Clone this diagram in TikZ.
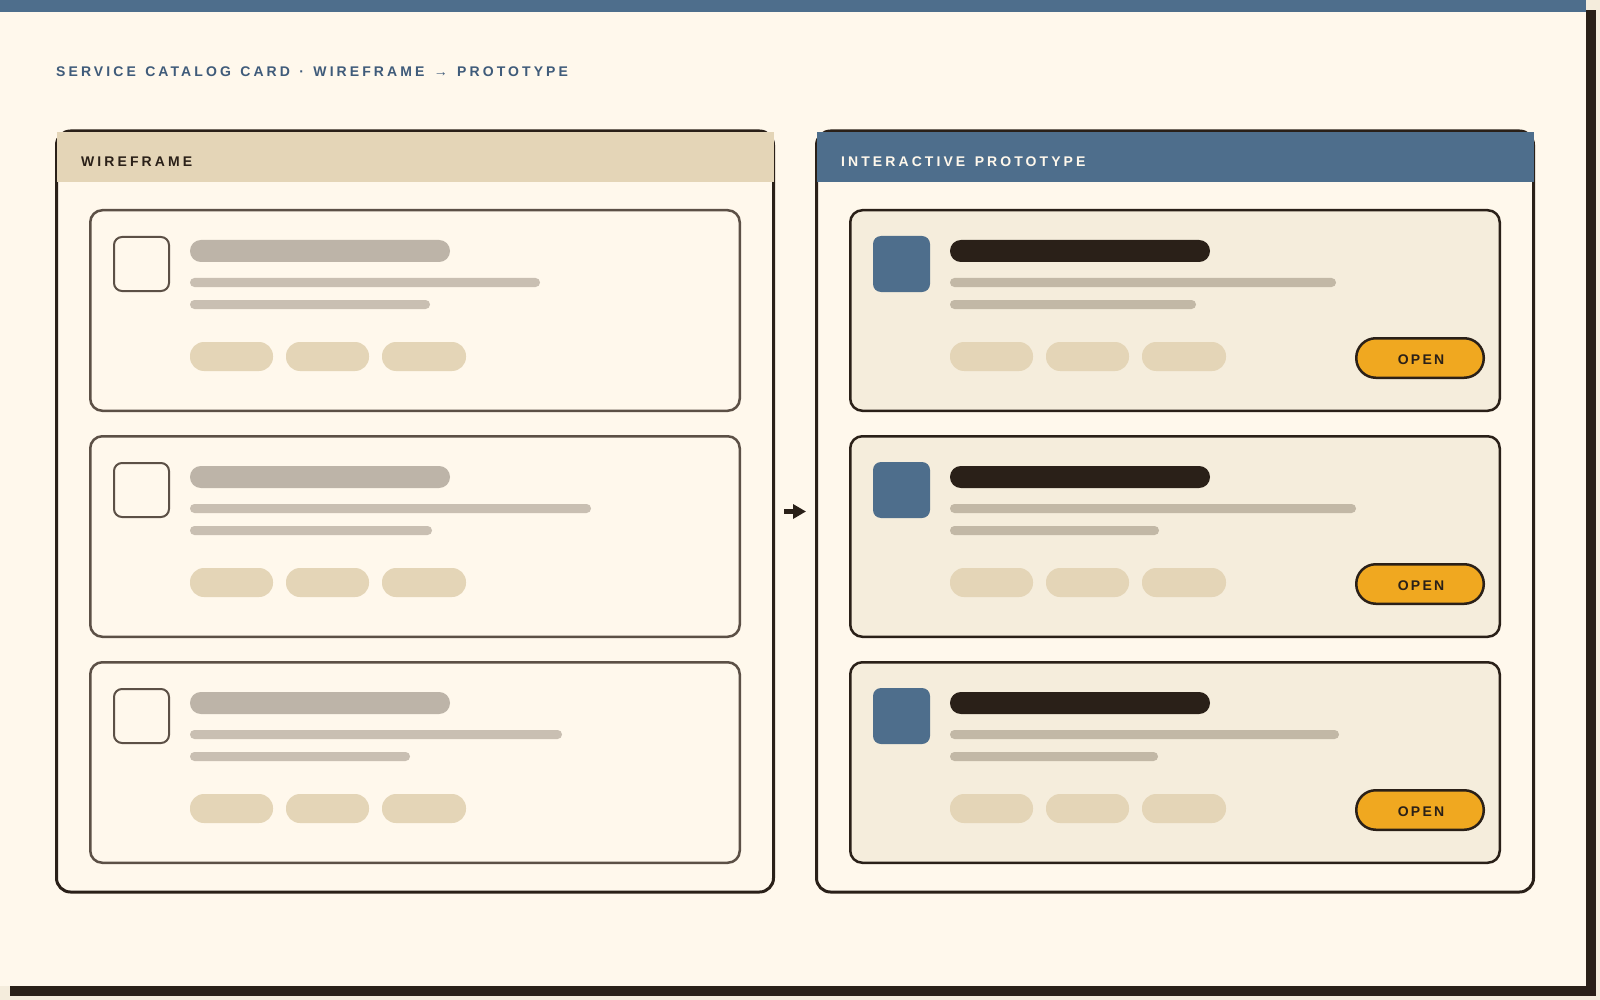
\documentclass[tikz,border=0pt]{standalone}
\usepackage{fontspec}
\setmainfont{Liberation Sans}
\newfontfamily\trackfont[LetterSpace=22,WordSpace=1.35]{Liberation Sans}
\newfontfamily\btnfont[LetterSpace=16]{Liberation Sans}
\usetikzlibrary{arrows.meta}
\definecolor{bgout}{HTML}{F4ECDC}
\definecolor{paper}{HTML}{FFF8EC}
\definecolor{ink}{HTML}{2A2018}
\definecolor{steel}{HTML}{4E6E8C}
\definecolor{sand}{HTML}{E4D5B7}
\definecolor{wborder}{HTML}{5C5046}
\definecolor{wtitle}{HTML}{BDB4A8}
\definecolor{wline}{HTML}{C9BFB2}
\definecolor{pfill}{HTML}{F5EDDC}
\definecolor{pline}{HTML}{C2B8A6}
\definecolor{amber}{HTML}{F0A820}
\definecolor{titleblue}{HTML}{3F5B7A}
\begin{document}
\begin{tikzpicture}[x=1pt,y=-1pt,
  panel/.style={draw=ink, line width=3pt, fill=paper, rounded corners=14pt,
    minimum width=717pt, minimum height=761pt, inner sep=0pt},
  headbar/.style={anchor=north west, minimum width=717pt, minimum height=50pt, inner sep=0pt},
  headtext/.style={anchor=west, inner sep=0pt, font=\trackfont\bfseries\fontsize{14}{16}\selectfont},
  wcard/.style={draw=wborder, line width=2.5pt, fill=paper, rounded corners=12pt,
    minimum width=649.5pt, minimum height=200.5pt, inner sep=0pt},
  pcard/.style={wcard, draw=ink, fill=pfill},
  wicon/.style={draw=wborder, line width=2pt, fill=paper, rounded corners=8pt,
    minimum width=55pt, minimum height=54pt, inner sep=0pt},
  picon/.style={fill=steel, rounded corners=8pt,
    minimum width=57pt, minimum height=56pt, inner sep=0pt},
  chip/.style={fill=sand, rounded corners=14pt},
  openbtn/.style={draw=ink, line width=2.5pt, fill=amber, rounded corners=19.5pt,
    minimum width=127.5pt, minimum height=39.5pt, inner sep=0pt},
  btntext/.style={inner sep=0pt, text=ink, font=\btnfont\bfseries\fontsize{14}{16}\selectfont},
  link/.style={draw=ink, line width=5pt, -{Triangle[length=13pt,width=14pt]}}
]
\useasboundingbox (0,0) rectangle (1600,1000);
\fill[bgout] (0,0) rectangle (1600,1000);
\fill[ink] (10,10) rectangle (1596,996);
\fill[paper] (0,0) rectangle (1586,986);
\fill[steel] (0,0) rectangle (1586,12);

\node[anchor=west, inner sep=0pt, text=titleblue,
  font=\trackfont\bfseries\fontsize{14}{16}\selectfont] (title) at (56,72)
  {SERVICE CATALOG CARD · WIREFRAME → PROTOTYPE};

% panels
\node[panel] (wp) at (415,511.5) {};
\node[panel] (pp) at (1175,511.5) {};
\node[headbar, fill=sand] (wh) at (56.5,132) {};
\node[headbar, fill=steel] (ph) at (816.5,132) {};
\node[headtext, text=ink] (wht) at (81,161.5) {WIREFRAME};
\node[headtext, text=paper] (pht) at (841,161.5) {INTERACTIVE PROTOTYPE};

\draw[link, shorten <=9pt, shorten >=9pt] (wp.east) -- (pp.west);

% wireframe cards
\foreach \i/\la/\lb in {1/540/430, 2/591/432, 3/562/410}{
  \pgfmathsetmacro{\top}{209+226*(\i-1)}
  \begin{scope}[shift={(89,\top)}]
    \node[wcard] (wc\i) at (326,101.5) {};
    \node[wicon] (wi\i) at (52.5,55) {};
    \fill[wtitle, rounded corners=10.9pt] (101,31) rectangle (361,53);
    \fill[wline, rounded corners=4.4pt] (101,69) rectangle ({\la-89},78);
    \fill[wline, rounded corners=4.4pt] (101,91) rectangle ({\lb-89},100);
    \fill[chip] (101,133) rectangle (184,162);
    \fill[chip] (197,133) rectangle (280,162);
    \fill[chip] (293,133) rectangle (377,162);
  \end{scope}
}

% prototype cards
\foreach \i/\la/\lb in {1/1336/1196, 2/1356/1159, 3/1339/1158}{
  \pgfmathsetmacro{\top}{209+226*(\i-1)}
  \begin{scope}[shift={(849,\top)}]
    \node[pcard] (pc\i) at (326,101.5) {};
    \node[picon] (pi\i) at (52.5,55) {};
    \fill[ink, rounded corners=10.9pt] (101,31) rectangle (361,53);
    \fill[pline, rounded corners=4.4pt] (101,69) rectangle ({\la-849},78);
    \fill[pline, rounded corners=4.4pt] (101,91) rectangle ({\lb-849},100);
    \fill[chip] (101,133) rectangle (184,162);
    \fill[chip] (197,133) rectangle (280,162);
    \fill[chip] (293,133) rectangle (377,162);
    \node[openbtn] (ob\i) at (571,149) {};
    \node[btntext] (obt\i) at (572,150.5) {OPEN};
  \end{scope}
}
\end{tikzpicture}
\end{document}
